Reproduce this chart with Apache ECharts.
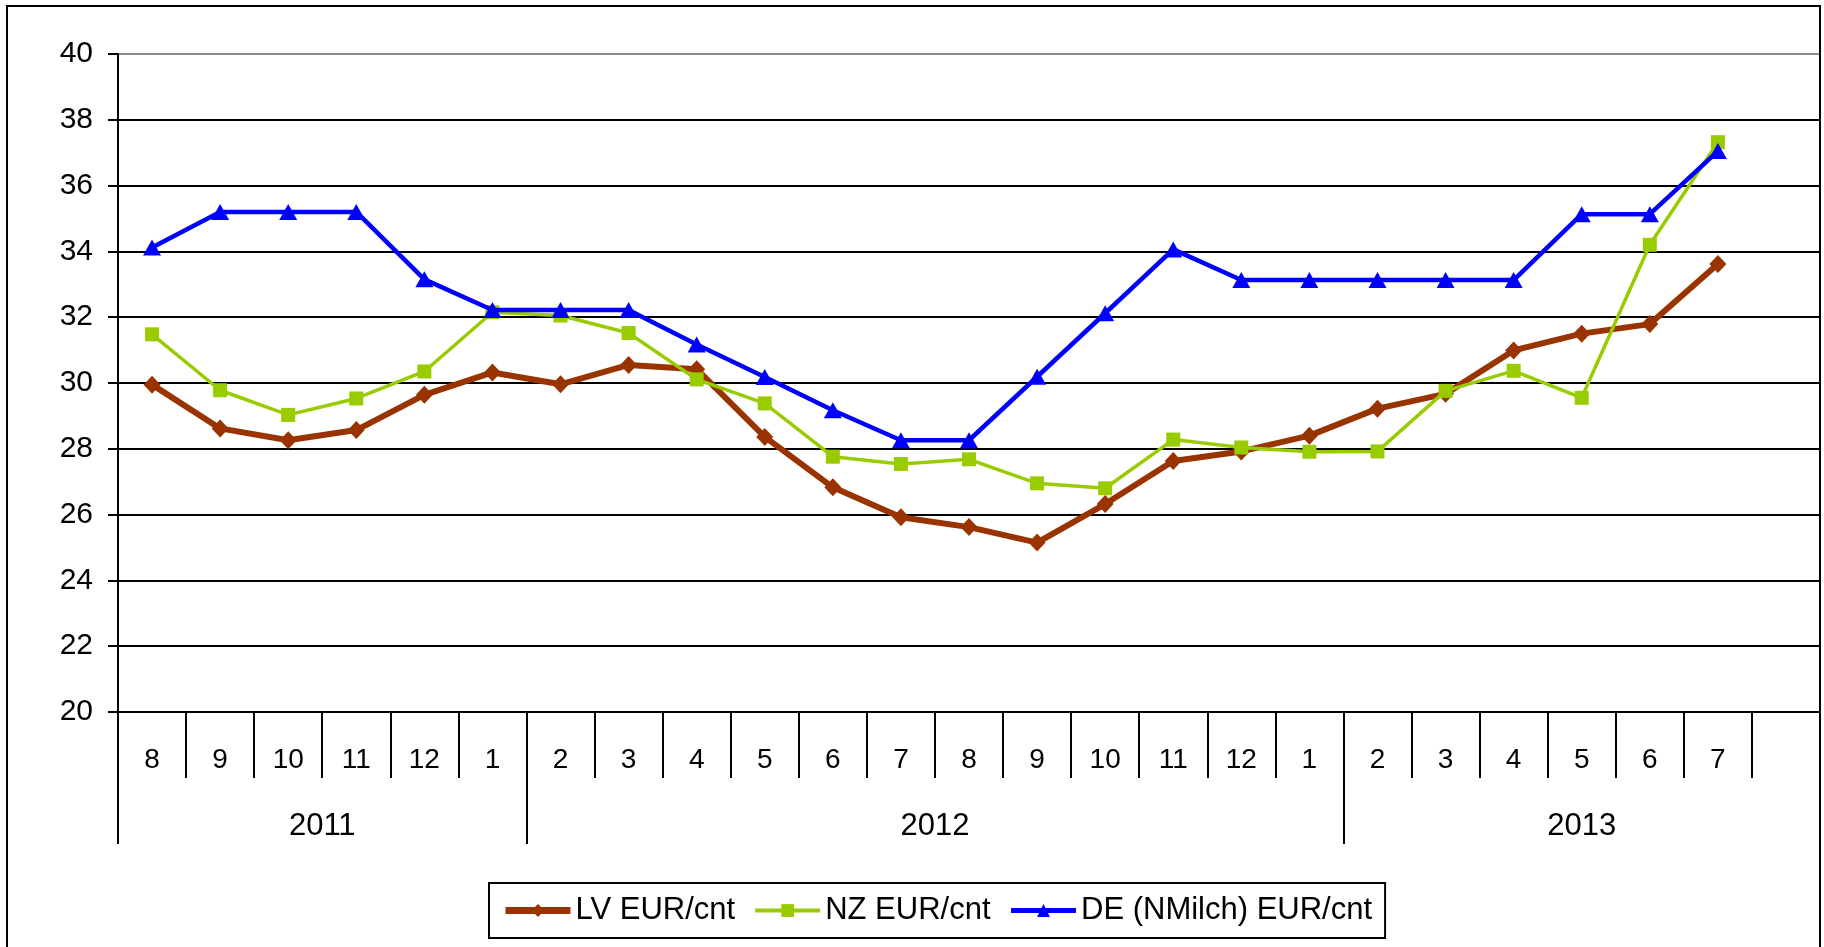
<!DOCTYPE html>
<html>
<head>
<meta charset="utf-8">
<script src="https://cdn.jsdelivr.net/npm/echarts@6/dist/echarts.min.js"></script>
<style>
  html, body { margin: 0; padding: 0; background: #fff; }
  #chart { width: 1824px; height: 947px; }
</style>
</head>
<body>
<div id="chart"></div>
<script>
// months Aug 2011 .. Jul 2013, plus one empty slot at the end
const months = ['8', '9', '10', '11', '12', '1', '2', '3', '4', '5', '6', '7',
  '8', '9', '10', '11', '12', '1', '2', '3', '4', '5', '6', '7', '']
const years = ['2011', '2012', '2013']
const yearStart = [0, 6, 18]
const yearSlots = [6, 12, 7]

const lvValues = [29.95, 28.62, 28.26, 28.57, 29.64, 30.32, 29.96, 30.55, 30.42, 28.36,
  26.83, 25.92, 25.62, 25.15, 26.32, 27.63, 27.92, 28.4, 29.22, 29.67, 30.99, 31.5, 31.79, 33.62]
const nzValues = [31.48, 29.78, 29.03, 29.53, 30.35, 32.15, 32.05, 31.52, 30.11, 29.38,
  27.76, 27.54, 27.68, 26.95, 26.8, 28.28, 28.04, 27.91, 27.92, 29.76, 30.37, 29.55, 34.2, 37.32]
const deValues = [34.12, 35.2, 35.2, 35.2, 33.15, 32.22, 32.22, 32.22, 31.17, 30.18,
  29.17, 28.26, 28.26, 30.19, 32.12, 34.06, 33.13, 33.13, 33.13, 33.13, 33.13, 35.13, 35.13, 37.05]

const seriesNames = ['LV EUR/cnt', 'NZ EUR/cnt', 'DE (NMilch) EUR/cnt']

const yearCenters = yearStart.map((s, i) => s + yearSlots[i] / 2)

// top gridline (40) is grey, the rest black
const gridColors = Array(10).fill('#000').concat(['#8c8c8c'])

const font = 'Liberation Sans, Arial, sans-serif'

const chart = echarts.init(document.getElementById('chart'))
chart.setOption({
  animation: false,
  backgroundColor: '#fff',
  textStyle: { fontFamily: font, color: '#000' },
  graphic: [{
    type: 'rect',
    shape: { x: 7, y: 6, width: 1813, height: 1000 },
    style: { fill: 'none', stroke: '#000', lineWidth: 2 },
    z: 100
  }],
  grid: { left: 118, right: 4, top: 54, bottom: 235 },
  legend: {
    left: 489,
    top: 883,
    padding: [12, 13, 12, 13],
    itemWidth: 65,
    itemHeight: 16,
    itemGap: 18,
    borderColor: '#000',
    borderWidth: 2,
    textStyle: { fontSize: 31, color: '#000', fontFamily: font },
    data: [
      { name: seriesNames[0], lineStyle: { width: 7 } },
      { name: seriesNames[1], lineStyle: { width: 4 } },
      { name: seriesNames[2], lineStyle: { width: 5 } }
    ]
  },
  xAxis: [{
    type: 'category',
    data: months,
    boundaryGap: true,
    position: 'bottom',
    axisLine: { lineStyle: { color: '#000', width: 2 } },
    axisTick: { show: true, interval: 0, length: 66, lineStyle: { color: '#000', width: 2 } },
    axisLabel: { interval: 0, fontSize: 28, color: '#000', margin: 34 },
    splitLine: { show: false }
  }, {
    type: 'value',
    min: 0,
    max: months.length,
    position: 'bottom',
    axisLine: { show: false },
    axisTick: { show: true, customValues: yearStart, length: 132, lineStyle: { color: '#000', width: 2 } },
    axisLabel: {
      customValues: yearCenters,
      fontSize: 31,
      color: '#000',
      margin: 99,
      formatter: v => years[yearCenters.indexOf(v)]
    },
    splitLine: { show: false }
  }],
  yAxis: {
    type: 'value',
    min: 20,
    max: 40,
    interval: 2,
    axisLine: { show: true, lineStyle: { color: '#000', width: 2 } },
    axisTick: { show: true, length: 10, lineStyle: { color: '#000', width: 2 } },
    axisLabel: { fontSize: 30, color: '#000', margin: 25 },
    splitLine: { lineStyle: { color: gridColors, width: 2 } }
  },
  series: [{
    name: seriesNames[0],
    type: 'line',
    data: lvValues,
    symbol: 'diamond',
    symbolSize: [17, 18],
    color: '#993300',
    lineStyle: { width: 6, color: '#993300' },
    itemStyle: { color: '#993300' },
    z: 3
  }, {
    name: seriesNames[1],
    type: 'line',
    data: nzValues,
    symbol: 'rect',
    symbolSize: 14,
    color: '#99CC00',
    lineStyle: { width: 3.5, color: '#99CC00' },
    itemStyle: { color: '#99CC00' },
    z: 4
  }, {
    name: seriesNames[2],
    type: 'line',
    data: deValues,
    symbol: 'triangle',
    symbolSize: [18, 16],
    color: '#0000FF',
    lineStyle: { width: 4.5, color: '#0000FF' },
    itemStyle: { color: '#0000FF' },
    z: 5
  }]
})
window.addEventListener('resize', () => chart.resize())
</script>
</body>
</html>
